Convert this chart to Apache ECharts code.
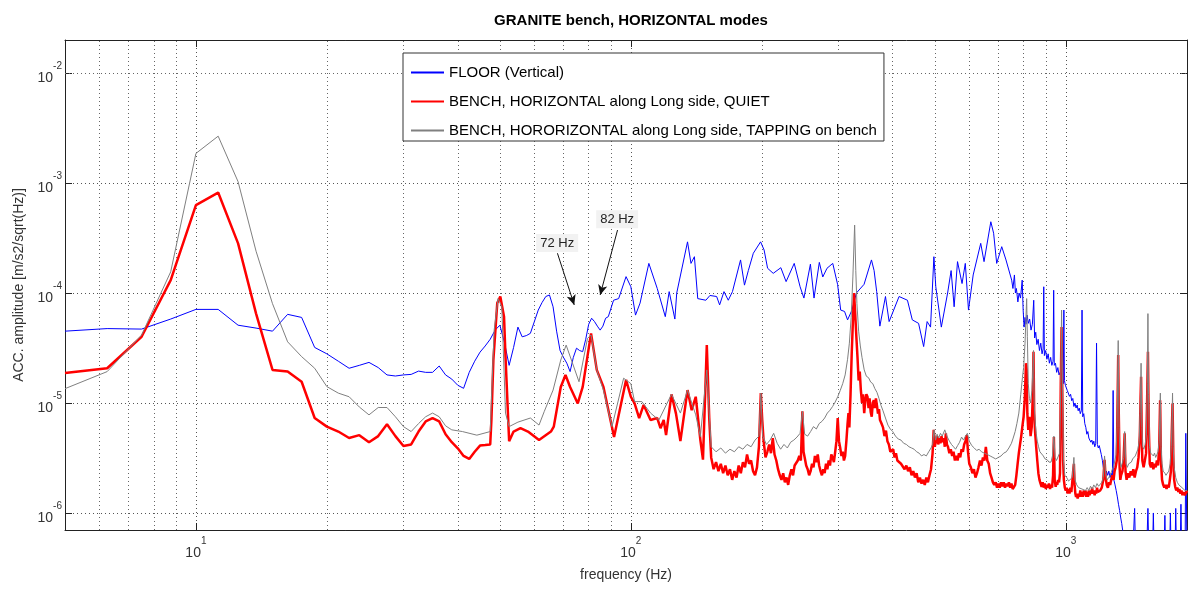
<!DOCTYPE html>
<html>
<head>
<meta charset="utf-8">
<script src="https://cdn.jsdelivr.net/npm/echarts@6/dist/echarts.min.js"></script>
<style>
  html, body { margin: 0; padding: 0; background: #fff; }
  #chart { width: 1188px; height: 590px; }
</style>
</head>
<body>
<div id="chart"></div>
<script>
// frequency axis / amplitude axis limits
const xMin = 5, xMax = 1900;
const yMin = 7e-7, yMax = 2e-2;

// minor grid positions (log axes)
const xMinorGrid = [6, 7, 8, 9, 20, 30, 40, 50, 60, 70, 80, 90, 200, 300, 400, 500, 600, 700, 800, 900];
const yMinorGrid = [8e-7, 9e-7, 2e-6, 3e-6, 4e-6, 5e-6, 6e-6, 7e-6, 8e-6, 9e-6,
  2e-5, 3e-5, 4e-5, 5e-5, 6e-5, 7e-5, 8e-5, 9e-5, 2e-4, 3e-4, 4e-4, 5e-4, 6e-4, 7e-4, 8e-4, 9e-4,
  2e-3, 3e-3, 4e-3, 5e-3, 6e-3, 7e-3, 8e-3, 9e-3];

const seriesNames = [
  'FLOOR (Vertical)',
  'BENCH, HORIZONTAL along Long side, QUIET',
  'BENCH, HORORIZONTAL along Long side, TAPPING on bench'
];

// [frequency Hz, amplitude m/s2/sqrt(Hz)]
const floorData = [
  [5, 4.5e-5], [6.25, 4.75e-5], [7.5, 4.7e-5], [8.75, 5.8e-5], [10, 7.1e-5], [11.25, 7.1e-5],
  [12.5, 5.1e-5], [13.75, 4.8e-5], [15, 4.5e-5], [16.25, 6.4e-5], [17.5, 6.0e-5], [18.75, 3.2e-5],
  [20, 2.8e-5], [21.25, 2.4e-5], [22.5, 2.07e-5], [23.75, 2.2e-5], [25, 2.34e-5], [26.25, 2.1e-5],
  [27.5, 1.8e-5], [28.75, 1.76e-5], [30, 1.8e-5], [31.25, 1.82e-5], [32.5, 1.95e-5], [33.75, 1.9e-5],
  [35, 1.9e-5], [36.25, 2.17e-5], [37.5, 1.8e-5], [38.75, 1.65e-5], [40, 1.45e-5], [41.25, 1.36e-5],
  [42.5, 1.9e-5], [43.75, 2.4e-5], [45, 2.9e-5], [46.25, 3.3e-5], [47.5, 3.8e-5], [48.75, 4.6e-5],
  [50, 5.1e-5], [51.25, 3.5e-5], [52.5, 2.2e-5], [53.75, 3.2e-5], [55, 4.9e-5], [56.25, 4.0e-5],
  [57.5, 4.1e-5], [58.75, 4.3e-5], [60, 5.5e-5], [61.25, 7.0e-5], [62.5, 8.2e-5], [63.75, 9.3e-5],
  [65, 9.6e-5], [66.25, 7.5e-5], [67.5, 4.5e-5], [68.75, 3.0e-5], [70, 2.6e-5], [71.25, 2.3e-5],
  [72.5, 1.93e-5], [73.75, 2.6e-5], [75, 3.15e-5], [76.25, 3.0e-5], [77.5, 2.93e-5], [78.75, 3.8e-5],
  [80, 5.2e-5], [81.25, 5.9e-5], [82.5, 5.5e-5], [83.75, 5.0e-5], [85, 4.6e-5], [86.25, 5.0e-5],
  [87.5, 5.9e-5], [88.75, 6.1e-5], [91.25, 8.6e-5], [93.75, 8.9e-5], [97.5, 1.41e-4], [100, 1.14e-4],
  [102.5, 6.3e-5], [105, 8.1e-5], [110, 1.86e-4], [115, 1.1e-4], [120, 6.1e-5], [122.5, 1.03e-4],
  [126.25, 5.8e-5], [127.5, 1.0e-4], [135, 2.92e-4], [137.5, 1.86e-4], [140, 2.14e-4], [142.5, 8.9e-5],
  [148.75, 8.6e-5], [152, 9.5e-5], [157.5, 9.3e-5], [160, 7.8e-5], [163.75, 1.03e-4], [167.5, 8.6e-5],
  [171.25, 1.03e-4], [178.75, 2.0e-4], [182.5, 1.18e-4], [186.25, 1.6e-4], [191.25, 2.3e-4],
  [198.75, 2.92e-4], [202.5, 2.46e-4], [206.25, 1.68e-4], [212.5, 1.51e-4], [221.25, 1.7e-4],
  [227.5, 1.27e-4], [237.5, 1.86e-4], [245, 1.14e-4], [250, 9.0e-5], [258.75, 1.83e-4], [263.75, 9.0e-5],
  [271.25, 1.9e-4], [276.25, 1.4e-4], [282.5, 1.68e-4], [291.25, 1.86e-4], [298.75, 1.2e-4],
  [303.75, 7.0e-5], [310, 6.8e-5], [315, 5.7e-5], [322.5, 7.0e-5], [330, 1.0e-4], [343.75, 1.2e-4],
  [357.5, 2.0e-4], [362.5, 1.6e-4], [367.5, 1.03e-4], [373.75, 5.0e-5], [385, 9.3e-5], [392.5, 5.5e-5],
  [413.75, 9.3e-5], [432.5, 8.6e-5], [443.75, 5.7e-5], [458.75, 5.3e-5], [471.25, 3.26e-5], [480, 5.5e-5],
  [488.75, 4.9e-5], [497.5, 2.14e-4], [502.5, 1.14e-4], [517.5, 4.9e-5], [535, 1.0e-4], [545, 1.6e-4],
  [553.75, 7.5e-5], [563.75, 1.93e-4], [577.5, 1.22e-4], [587.5, 1.86e-4], [597.5, 7.0e-5],
  [612.5, 1.46e-4], [637.5, 2.83e-4], [648.75, 1.93e-4], [672.5, 4.45e-4], [682.5, 3.5e-4],
  [693.75, 1.86e-4], [712.5, 2.64e-4], [728.75, 2.0e-4], [751, 1.31e-4], [756, 1.1e-4], [762, 1.46e-4],
  [766, 1.0e-4], [770, 1.1e-4], [776, 8.3e-5], [781, 1.0e-4], [787, 9e-5], [794, 1.31e-4], [798, 7e-5],
  [802, 4.9e-5], [806, 6e-5], [810, 5.2e-5], [815, 6.3e-5], [820, 5.3e-5], [826, 5.8e-5], [832, 4.6e-5],
  [838, 5.2e-5], [844, 8.6e-5], [848, 3.9e-5], [853, 4.4e-5], [858, 3.4e-5], [864, 3.8e-5], [870, 3.0e-5],
  [876, 3.5e-5], [882, 2.8e-5], [887, 3.1e-5], [890, 1.14e-4], [893, 2.7e-5], [899, 3.0e-5], [905, 2.5e-5],
  [911, 2.8e-5], [917, 2.3e-5], [923, 2.6e-5], [929, 2.2e-5], [935, 2.4e-5], [938, 1.06e-4], [941, 2.2e-5],
  [947, 2.3e-5], [953, 1.9e-5], [959, 2.1e-5], [965, 1.8e-5], [971, 1.9e-5], [977, 1.6e-5], [983, 1.75e-5],
  [987, 1.5e-5], [990, 7.0e-5], [993, 1.6e-5], [998, 1.45e-5], [1003, 1.5e-5], [1008, 1.3e-5],
  [1014, 1.35e-5], [1020, 1.15e-5], [1026, 1.2e-5], [1032, 1.05e-5], [1038, 1.1e-5], [1044, 9.3e-6],
  [1050, 1.0e-5], [1056, 9e-6], [1062, 9.6e-6], [1068, 8.5e-6], [1074, 9e-6], [1080, 8e-6], [1086, 8.5e-6],
  [1090, 7.0e-5], [1094, 7.5e-6], [1100, 8e-6], [1106, 6.5e-6], [1112, 6.0e-6], [1118, 5.2e-6],
  [1124, 5.5e-6], [1130, 4.8e-6], [1136, 5.0e-6], [1142, 4.4e-6], [1148, 4.6e-6], [1154, 4.2e-6],
  [1160, 4.5e-6], [1166, 4.0e-6], [1172, 4.3e-6], [1177, 3.5e-5], [1182, 4.2e-6], [1188, 3.9e-6],
  [1194, 4.1e-6], [1200, 4.0e-6], [1207, 3.4e-6], [1214, 3.0e-6], [1220, 2.6e-6], [1226, 2.4e-6],
  [1233, 2.1e-6], [1240, 2.4e-6], [1248, 2.2e-6], [1256, 2.4e-6], [1264, 2.1e-6], [1272, 2.3e-6],
  [1280, 2.1e-6], [1285, 1.3e-5], [1290, 2.0e-6], [1298, 1.8e-6], [1306, 1.6e-6], [1314, 1.4e-6],
  [1322, 1.2e-6], [1330, 1.05e-6], [1338, 9e-7], [1345, 8e-7], [1355, 6.5e-7], [1370, 5e-7],
  [1390, 3.5e-7], [1420, 3e-7], [1440, 1.1e-6], [1450, 3e-7], [1530, 3e-7], [1545, 1.1e-6], [1555, 3e-7],
  [1580, 3e-7], [1590, 1.0e-6], [1600, 3e-7], [1680, 3e-7], [1690, 9.5e-7], [1700, 3e-7], [1730, 3e-7],
  [1740, 1.0e-6], [1750, 3e-7], [1780, 3e-7], [1790, 1.1e-6], [1800, 3e-7], [1830, 3e-7], [1840, 1.2e-6],
  [1850, 3e-7], [1880, 3e-7], [1888, 5.3e-6], [1900, 4e-7]
];

const quietData = [
  [5, 1.87e-5], [6.25, 2.07e-5], [7.5, 4.0e-5], [8.75, 1.31e-4], [10, 6.3e-4], [11.25, 8.2e-4],
  [12.5, 2.83e-4], [13.75, 6.5e-5], [15, 2.0e-5], [16.25, 1.93e-5], [17.5, 1.56e-5], [18.75, 7.3e-6],
  [20, 6.1e-6], [21.25, 5.5e-6], [22.5, 4.8e-6], [23.75, 5.1e-6], [25, 4.4e-6], [26.25, 5.0e-6],
  [27.5, 6.4e-6], [28.75, 5.0e-6], [30, 4.06e-6], [31.25, 4.2e-6], [32.5, 5.5e-6], [33.75, 6.8e-6],
  [35, 7.3e-6], [36.25, 6.8e-6], [37.5, 5.2e-6], [38.75, 4.4e-6], [40, 3.87e-6], [41.25, 3.3e-6],
  [42.5, 3.1e-6], [43.75, 3.6e-6], [45, 4.1e-6], [46.25, 4.15e-6], [47.5, 4.2e-6], [47.8, 7e-6],
  [48.3, 2.46e-5], [49.3, 8.1e-5], [50.1, 9.3e-5], [51.1, 6.1e-5], [51.5, 2.64e-5], [52.5, 4.5e-6],
  [53.75, 5.5e-6], [55.75, 5.9e-6], [58, 5.5e-6], [61.5, 4.6e-6], [65.5, 5.5e-6], [66.5, 6.1e-6],
  [69, 1.4e-5], [70.75, 1.8e-5], [72.5, 1.4e-5], [75.5, 9.9e-6], [77.5, 1.4e-5], [81, 4.3e-5],
  [83.5, 2.0e-5], [86.5, 1.4e-5], [91.5, 4.9e-6], [97.5, 1.62e-5], [100, 1.14e-5], [102, 9.9e-6],
  [104.5, 7.3e-6], [107, 9.6e-6], [111, 7.0e-6], [115, 7.3e-6], [117, 5.9e-6], [119, 7e-6],
  [120.5, 5.1e-6], [124, 1.2e-5], [127, 8.0e-6], [130, 4.5e-6], [135, 1.31e-5], [138, 8.6e-6],
  [141, 1.14e-5], [144.5, 4.6e-6], [146.5, 3.05e-6], [149.5, 3.36e-5], [151.5, 7e-6], [153, 3.2e-6],
  [155, 2.5e-6], [157, 2.9e-6], [159, 2.4e-6], [161, 2.8e-6], [163, 2.3e-6], [165, 2.7e-6], [167, 2.2e-6],
  [169, 2.5e-6], [171, 2.0e-6], [173, 2.4e-6], [175, 2.1e-6], [177, 2.7e-6], [179, 2.3e-6], [181, 2.9e-6],
  [183, 2.6e-6], [185, 3.4e-6], [187, 2.8e-6], [189, 3.0e-6], [191, 2.4e-6], [193, 2.2e-6], [195, 2.6e-6],
  [197, 4e-6], [199, 1.23e-5], [200.5, 7e-6], [202, 4.5e-6], [204, 3.2e-6], [206, 3.6e-6], [208, 4.2e-6],
  [210, 3.5e-6], [212, 4.8e-6], [214, 3.4e-6], [216, 3.0e-6], [218, 2.5e-6], [220, 2.2e-6], [222, 2.0e-6],
  [224, 2.3e-6], [226, 1.9e-6], [228, 2.1e-6], [230, 1.8e-6], [232, 2.2e-6], [234, 2.5e-6], [236, 2.2e-6],
  [238, 2.7e-6], [240, 2.6e-6], [242, 3.0e-6], [244, 3.3e-6], [246, 3.0e-6], [248, 8.4e-6], [249.5, 3.6e-6],
  [251, 3.2e-6], [253, 2.7e-6], [255, 2.5e-6], [257, 2.2e-6], [259, 2.4e-6], [261, 2.8e-6], [263, 2.6e-6],
  [265, 3.3e-6], [267, 2.9e-6], [269, 3.4e-6], [271, 2.7e-6], [273, 2.4e-6], [275, 2.2e-6], [277, 2.5e-6],
  [279, 2.3e-6], [281, 2.8e-6], [283, 2.5e-6], [285, 3.0e-6], [287, 2.7e-6], [289, 3.4e-6], [291, 3.2e-6],
  [293, 2.9e-6], [295, 3.6e-6], [297, 4.5e-6], [299, 7.3e-6], [301, 4.5e-6], [303, 3.9e-6], [305, 3.3e-6],
  [307, 3.6e-6], [309, 3.0e-6], [311, 3.3e-6], [313, 4.5e-6], [315, 6.5e-6], [316.5, 8.1e-6], [318, 6e-6],
  [320, 1.2e-5], [322, 2.83e-5], [324, 5.5e-5], [326, 1.0e-4], [328, 6.5e-5], [330, 4.0e-5], [332, 2.6e-5],
  [334, 1.6e-5], [336, 1.93e-5], [338, 1.3e-5], [340, 1.0e-5], [342, 1.2e-5], [344, 8.1e-6], [346, 1.05e-5],
  [348, 1.2e-5], [350, 1.14e-5], [352, 9e-6], [354, 1.1e-5], [356, 8.3e-6], [358, 7.5e-6], [360, 1.0e-5],
  [362, 1.06e-5], [364, 9e-6], [366, 1.1e-5], [368, 9.5e-6], [370, 8.0e-6], [372, 8.8e-6], [374, 7e-6],
  [377, 6.5e-6], [380, 6.0e-6], [383, 5.0e-6], [386, 5.6e-6], [389, 4.5e-6], [392, 4.2e-6], [395, 3.6e-6],
  [398, 3.46e-6], [401, 3.8e-6], [404, 3.2e-6], [407, 3.5e-6], [410, 3.0e-6], [414, 3.05e-6], [418, 2.8e-6],
  [422, 2.9e-6], [426, 2.5e-6], [430, 2.7e-6], [434, 2.4e-6], [438, 2.6e-6], [442, 2.2e-6], [446, 2.4e-6],
  [450, 2.1e-6], [454, 2.3e-6], [458, 1.9e-6], [462, 2.1e-6], [466, 1.85e-6], [470, 2.0e-6], [474, 1.8e-6],
  [478, 2.1e-6], [482, 1.9e-6], [486, 2.2e-6], [490, 2.5e-6], [494, 3.46e-6], [497, 5.7e-6], [500, 4.0e-6],
  [503, 4.6e-6], [506, 5.0e-6], [509, 4.2e-6], [512, 4.8e-6], [515, 4.3e-6], [518, 5.0e-6], [521, 4.4e-6],
  [524, 4.8e-6], [527, 4.0e-6], [530, 5.3e-6], [533, 4.2e-6], [536, 4.0e-6], [540, 3.5e-6], [544, 3.8e-6],
  [548, 3.3e-6], [552, 3.6e-6], [556, 3.0e-6], [560, 3.3e-6], [564, 3.0e-6], [568, 3.5e-6], [572, 3.2e-6],
  [576, 3.8e-6], [580, 3.6e-6], [584, 4.2e-6], [588, 4.5e-6], [592, 5.1e-6], [596, 3.6e-6], [600, 2.8e-6],
  [605, 2.6e-6], [610, 2.3e-6], [615, 2.5e-6], [620, 2.1e-6], [625, 2.3e-6], [630, 2.6e-6], [635, 3.0e-6],
  [640, 2.7e-6], [645, 3.2e-6], [650, 3.0e-6], [655, 4.0e-6], [660, 3.0e-6], [665, 2.8e-6], [670, 2.3e-6],
  [675, 2.1e-6], [680, 1.9e-6], [685, 1.8e-6], [690, 1.9e-6], [695, 1.7e-6], [700, 1.85e-6], [705, 1.7e-6],
  [710, 1.9e-6], [715, 1.75e-6], [720, 1.9e-6], [725, 1.7e-6], [730, 1.85e-6], [735, 1.75e-6], [740, 1.9e-6],
  [745, 1.7e-6], [750, 1.85e-6], [755, 1.65e-6], [760, 1.6e-6], [765, 1.8e-6], [770, 2.2e-6], [775, 2.8e-6],
  [780, 3.5e-6], [785, 4.2e-6], [790, 5e-6], [795, 6.2e-6], [800, 7.5e-6], [805, 1.1e-5], [810, 2.3e-5],
  [813, 2.0e-5], [816, 8e-6], [820, 5.7e-6], [825, 7.5e-6], [830, 5e-6], [835, 6e-6], [840, 1.2e-5],
  [843, 2.93e-5], [846, 8e-6], [850, 5.5e-6], [855, 4.0e-6], [860, 3.0e-6], [865, 2.3e-6], [870, 2.0e-6],
  [875, 1.85e-6], [880, 1.73e-6], [885, 1.9e-6], [890, 1.7e-6], [895, 1.85e-6], [900, 1.65e-6], [905, 1.8e-6],
  [910, 1.7e-6], [915, 1.85e-6], [920, 1.65e-6], [925, 1.8e-6], [930, 1.7e-6], [935, 2.2e-6], [939, 4.9e-6],
  [943, 2.0e-6], [948, 1.73e-6], [952, 1.9e-6], [956, 1.8e-6], [960, 2.0e-6], [965, 1.9e-6], [970, 2.3e-6],
  [974, 1.5e-5], [978, 4.9e-5], [982, 1.2e-5], [986, 3e-6], [990, 2e-6], [995, 1.7e-6], [1000, 1.6e-6],
  [1005, 1.7e-6], [1010, 1.5e-6], [1015, 1.65e-6], [1020, 1.5e-6], [1025, 1.7e-6], [1030, 1.55e-6],
  [1035, 1.9e-6], [1040, 2.4e-6], [1044, 2.8e-6], [1048, 1.8e-6], [1052, 1.5e-6], [1056, 1.4e-6],
  [1060, 1.5e-6], [1065, 1.35e-6], [1070, 1.5e-6], [1075, 1.4e-6], [1080, 1.6e-6], [1085, 1.4e-6],
  [1090, 1.55e-6], [1095, 1.4e-6], [1100, 1.6e-6], [1105, 1.45e-6], [1110, 1.6e-6], [1115, 1.4e-6],
  [1120, 1.55e-6], [1125, 1.4e-6], [1130, 1.6e-6], [1135, 1.45e-6], [1140, 1.6e-6], [1145, 1.5e-6],
  [1150, 1.7e-6], [1155, 1.5e-6], [1160, 1.6e-6], [1165, 1.45e-6], [1170, 1.6e-6], [1175, 1.5e-6],
  [1180, 1.7e-6], [1185, 1.55e-6], [1190, 1.6e-6], [1195, 1.5e-6], [1200, 1.6e-6], [1210, 1.7e-6],
  [1220, 2.0e-6], [1228, 3.05e-6], [1235, 2.1e-6], [1242, 1.8e-6], [1250, 1.7e-6], [1258, 1.9e-6],
  [1265, 1.8e-6], [1272, 2.0e-6], [1280, 2.2e-6], [1288, 2.0e-6], [1295, 2.4e-6], [1302, 2.6e-6],
  [1310, 3e-6], [1316, 1.1e-5], [1320, 2.73e-5], [1324, 8e-6], [1330, 2.6e-6], [1335, 2.0e-6],
  [1340, 2.2e-6], [1350, 2.4e-6], [1358, 3e-6], [1366, 5.3e-6], [1372, 2.4e-6], [1380, 2.0e-6],
  [1390, 2.3e-6], [1400, 2.1e-6], [1410, 2.4e-6], [1420, 2.2e-6], [1430, 2.5e-6], [1440, 2.1e-6],
  [1450, 2.4e-6], [1460, 2.6e-6], [1470, 3.2e-6], [1480, 5e-6], [1486, 1.1e-5], [1490, 1.73e-5],
  [1495, 5e-6], [1500, 3.0e-6], [1510, 2.6e-6], [1520, 3.0e-6], [1530, 3.5e-6], [1538, 1e-5],
  [1545, 2.93e-5], [1552, 6e-6], [1560, 2.8e-6], [1570, 2.6e-6], [1580, 2.9e-6], [1590, 2.5e-6],
  [1600, 2.8e-6], [1610, 2.6e-6], [1620, 3.0e-6], [1630, 2.7e-6], [1640, 4.0e-6], [1648, 1.06e-5],
  [1655, 3e-6], [1665, 2.0e-6], [1675, 1.8e-6], [1685, 1.7e-6], [1695, 1.8e-6], [1705, 1.65e-6],
  [1715, 1.8e-6], [1725, 1.7e-6], [1735, 2.0e-6], [1745, 2.4e-6], [1752, 5e-6], [1760, 9.9e-6],
  [1768, 3e-6], [1775, 2.0e-6], [1785, 1.73e-6], [1795, 1.6e-6], [1805, 1.7e-6], [1815, 1.55e-6],
  [1825, 1.65e-6], [1835, 1.5e-6], [1845, 1.6e-6], [1855, 1.45e-6], [1865, 1.55e-6], [1875, 1.45e-6],
  [1885, 1.5e-6], [1895, 1.55e-6], [1900, 1.6e-6]
];

const tappingData = [
  [5, 1.35e-5], [6.25, 1.93e-5], [7.5, 4.15e-5], [8.75, 1.56e-4], [10, 1.86e-3], [11.25, 2.67e-3],
  [12.5, 1.03e-3], [13.75, 2.4e-4], [15, 8e-5], [16.25, 3.6e-5], [17.5, 2.64e-5], [18.75, 2.07e-5],
  [20, 1.41e-5], [21.25, 1.23e-5], [22.5, 1.14e-5], [23.75, 9.2e-6], [25, 7.8e-6], [26.25, 9.1e-6],
  [27.5, 9.1e-6], [28.75, 7.5e-6], [30, 6.1e-6], [31.25, 5.5e-6], [32.5, 6.5e-6], [33.75, 7.5e-6],
  [35, 8.1e-6], [36.25, 7.5e-6], [37.5, 6.2e-6], [38.75, 5.7e-6], [41, 5.5e-6], [44.25, 5.1e-6],
  [47.5, 5.5e-6], [48.5, 4.6e-5], [49.5, 8.9e-5], [50.5, 7.5e-5], [51.5, 8.1e-6], [52.5, 6.1e-6],
  [55, 6.7e-6], [58.75, 7.3e-6], [61.5, 6.3e-6], [63.25, 8.4e-6], [66.25, 1.31e-5], [69, 2.46e-5],
  [71, 3.36e-5], [73, 2.46e-5], [76, 1.56e-5], [79.5, 3.87e-5], [81, 4.15e-5], [83.5, 2.0e-5],
  [86.5, 1.31e-5], [90.5, 6.1e-6], [96.25, 1.68e-5], [100, 1.5e-5], [102, 1.03e-5], [106, 1.03e-5],
  [111, 8.1e-6], [116, 7e-6], [124, 1.2e-5], [130, 8.1e-6], [135, 1.31e-5], [141, 7.8e-6],
  [144.5, 4.94e-6], [149.5, 2e-5], [153, 4.0e-6], [157, 3.6e-6], [161, 3.9e-6], [165, 3.5e-6],
  [169, 3.8e-6], [173, 3.6e-6], [177, 4.0e-6], [181, 3.8e-6], [185, 4.2e-6], [189, 4.0e-6], [193, 4.6e-6],
  [197, 5e-6], [199, 1.23e-5], [201, 5e-6], [205, 4.2e-6], [209, 4.6e-6], [213, 5.3e-6], [217, 4.3e-6],
  [221, 3.8e-6], [225, 4.2e-6], [229, 3.9e-6], [233, 4.4e-6], [237, 4.6e-6], [241, 4.9e-6], [245, 5.3e-6],
  [248, 8.4e-6], [251, 5.2e-6], [255, 5.0e-6], [259, 5.5e-6], [263, 6.1e-6], [267, 5.8e-6], [271, 6.5e-6],
  [275, 6.8e-6], [279, 7.3e-6], [283, 8.1e-6], [287, 8.6e-6], [291, 9.3e-6], [295, 1.02e-5], [299, 1.14e-5],
  [303, 1.3e-5], [307, 1.5e-5], [311, 1.8e-5], [315, 2.5e-5], [318, 3.5e-5], [321, 6e-5], [324, 1.4e-4],
  [327, 4.15e-4], [329, 1.6e-4], [331, 8e-5], [334, 4.5e-5], [337, 3.3e-5], [340, 2.6e-5], [344, 2.0e-5],
  [348, 1.75e-5], [352, 1.7e-5], [356, 1.55e-5], [360, 1.5e-5], [364, 1.35e-5], [368, 1.25e-5],
  [372, 1.1e-5], [376, 9.5e-6], [380, 8.5e-6], [385, 7.3e-6], [390, 6.3e-6], [395, 5.8e-6], [400, 5.5e-6],
  [406, 5.0e-6], [412, 4.7e-6], [418, 4.6e-6], [424, 4.3e-6], [430, 4.2e-6], [436, 4.0e-6], [442, 3.9e-6],
  [448, 3.8e-6], [454, 3.6e-6], [460, 3.5e-6], [466, 3.3e-6], [472, 3.4e-6], [478, 3.3e-6], [484, 3.6e-6],
  [490, 3.9e-6], [494, 4.2e-6], [498, 5.7e-6], [502, 4.6e-6], [506, 5.2e-6], [510, 4.8e-6], [515, 5.3e-6],
  [520, 5.0e-6], [527, 5.7e-6], [533, 5.0e-6], [540, 4.5e-6], [546, 4.2e-6], [552, 4.0e-6], [558, 3.8e-6],
  [564, 4.1e-6], [570, 4.4e-6], [576, 4.9e-6], [582, 4.6e-6], [588, 5.0e-6], [594, 5.3e-6], [600, 4.5e-6],
  [608, 4.1e-6], [616, 3.9e-6], [624, 3.7e-6], [632, 3.8e-6], [640, 3.6e-6], [650, 3.5e-6], [660, 3.4e-6],
  [670, 3.3e-6], [680, 3.2e-6], [690, 3.1e-6], [700, 3.2e-6], [710, 3.3e-6], [720, 3.5e-6], [730, 3.6e-6],
  [740, 3.9e-6], [750, 4.3e-6], [757, 4.8e-6], [765, 5.5e-6], [772, 6.5e-6], [780, 8.1e-6], [788, 1.2e-5],
  [795, 1.7e-5], [800, 2.1e-5], [806, 3.5e-5], [810, 6e-5], [813, 8.9e-5], [816, 4e-5], [820, 1.5e-5],
  [825, 1.1e-5], [830, 1.0e-5], [836, 1.3e-5], [840, 2e-5], [843, 3e-5], [846, 1e-5], [850, 7e-6],
  [855, 5.3e-6], [860, 4.5e-6], [866, 4.0e-6], [872, 3.6e-6], [880, 3.46e-6], [888, 3.3e-6], [896, 3.1e-6],
  [906, 3.05e-6], [915, 2.9e-6], [925, 2.9e-6], [932, 3.3e-6], [939, 5e-6], [945, 3.2e-6], [952, 3.0e-6],
  [960, 3.0e-6], [968, 3.5e-6], [974, 1.5e-5], [978, 7e-5], [982, 2e-5], [988, 3e-6], [995, 2.2e-6],
  [1005, 2.1e-6], [1015, 1.95e-6], [1025, 1.9e-6], [1035, 2.1e-6], [1044, 3.2e-6], [1050, 2.0e-6],
  [1060, 1.8e-6], [1070, 1.7e-6], [1080, 1.75e-6], [1090, 1.65e-6], [1100, 1.7e-6], [1110, 1.6e-6],
  [1120, 1.7e-6], [1130, 1.6e-6], [1140, 1.75e-6], [1150, 1.65e-6], [1160, 1.8e-6], [1170, 1.7e-6],
  [1180, 1.85e-6], [1190, 1.75e-6], [1200, 1.8e-6], [1210, 1.9e-6], [1220, 2.1e-6], [1228, 3.3e-6],
  [1236, 2.2e-6], [1245, 2.0e-6], [1255, 2.1e-6], [1265, 2.2e-6], [1275, 2.4e-6], [1285, 2.6e-6],
  [1295, 2.9e-6], [1305, 3.4e-6], [1312, 6e-6], [1320, 3.7e-5], [1326, 6e-6], [1333, 3e-6], [1340, 2.6e-6],
  [1350, 2.7e-6], [1360, 3.2e-6], [1366, 5.5e-6], [1375, 2.8e-6], [1385, 2.6e-6], [1395, 2.8e-6],
  [1405, 2.7e-6], [1415, 2.9e-6], [1425, 3.1e-6], [1435, 3.0e-6], [1445, 3.3e-6], [1455, 3.4e-6],
  [1465, 3.8e-6], [1475, 4.5e-6], [1482, 8e-6], [1490, 2.3e-5], [1496, 6e-6], [1502, 4.0e-6],
  [1512, 3.8e-6], [1522, 4.2e-6], [1532, 5e-6], [1540, 1.5e-5], [1545, 6.5e-5], [1550, 1.2e-5],
  [1558, 4.0e-6], [1568, 3.5e-6], [1580, 3.46e-6], [1590, 3.3e-6], [1600, 3.5e-6], [1610, 3.2e-6],
  [1620, 3.4e-6], [1630, 3.6e-6], [1640, 4.5e-6], [1650, 1.23e-5], [1656, 4e-6], [1665, 2.8e-6],
  [1675, 2.4e-6], [1690, 2.3e-6], [1700, 2.2e-6], [1712, 2.3e-6], [1725, 2.4e-6], [1738, 2.8e-6],
  [1748, 4e-6], [1755, 7e-6], [1760, 1.23e-5], [1766, 4e-6], [1775, 2.6e-6], [1790, 2.1e-6],
  [1805, 1.9e-6], [1820, 1.8e-6], [1835, 1.73e-6], [1850, 1.7e-6], [1865, 1.65e-6], [1880, 1.6e-6],
  [1900, 1.6e-6]
];

// annotation arrows: label, label position, arrow start, arrow end
const notes = [
  { text: '72 Hz', at: [67.7, 2.85e-4], from: [67.8, 2.3e-4], to: [74.1, 7.8e-5] },
  { text: '82 Hz', at: [93, 4.7e-4], from: [93.2, 3.74e-4], to: [85.0, 9.6e-5] }
];

const FONT = '"Liberation Sans", Arial, sans-serif';

function powLabel(value) {
  const lg = Math.log10(value);
  const e = Math.round(lg);
  if (Math.abs(lg - e) > 1e-6) return '';
  return '{b|10}{s|' + e + '}';
}

const labelRich = {
  b: { fontSize: 14, fontFamily: FONT, color: '#333', lineHeight: 24, verticalAlign: 'bottom' },
  s: { fontSize: 10, fontFamily: FONT, color: '#333', lineHeight: 6, verticalAlign: 'top' }
};

const dotted = { color: '#555', width: 1, type: [1, 3] };
const dottedMinor = { color: '#666', width: 1, type: [1, 3] };

const gridLines = xMinorGrid.map(v => ({ xAxis: v }))
  .concat(yMinorGrid.map(v => ({ yAxis: v })));

const chart = echarts.init(document.getElementById('chart'));

chart.setOption({
  animation: false,
  backgroundColor: '#fff',
  title: {
    text: 'GRANITE bench, HORIZONTAL modes',
    left: 626,
    top: 8,
    textAlign: 'center',
    textStyle: { fontFamily: FONT, fontSize: 15, fontWeight: 'bold', color: '#000' }
  },
  legend: {
    data: seriesNames,
    orient: 'vertical',
    left: 403,
    top: 53,
    padding: [12, 7, 3, 7],
    itemGap: 14,
    itemWidth: 33,
    itemHeight: 14,
    backgroundColor: '#fff',
    borderColor: '#333',
    borderWidth: 1,
    itemStyle: { opacity: 0 },
    textStyle: { fontFamily: FONT, fontSize: 15, color: '#000' }
  },
  grid: { left: 65, right: 1, top: 40, bottom: 60 },
  xAxis: [
    {
      type: 'log', logBase: 10, min: xMin, max: xMax,
      name: 'frequency (Hz)', nameLocation: 'middle', nameGap: 38,
      nameTextStyle: { fontFamily: FONT, fontSize: 14, color: '#333' },
      axisLine: { show: true, lineStyle: { color: '#222' } },
      axisTick: { show: true, inside: true, length: 7, lineStyle: { color: '#222' } },
      axisLabel: { formatter: powLabel, rich: labelRich, margin: 6, showMinLabel: false, showMaxLabel: false },
      splitLine: { show: true, lineStyle: dotted }
    },
    {
      type: 'log', logBase: 10, min: xMin, max: xMax, position: 'top',
      axisLine: { show: true, lineStyle: { color: '#222' } },
      axisTick: { show: true, inside: true, length: 7, lineStyle: { color: '#222' } },
      axisLabel: { show: false },
      splitLine: { show: false }
    }
  ],
  yAxis: [
    {
      type: 'log', logBase: 10, min: yMin, max: yMax,
      name: 'ACC. amplitude [m/s2/sqrt(Hz)]', nameLocation: 'middle', nameGap: 36, nameRotate: 90,
      nameTextStyle: { fontFamily: FONT, fontSize: 14, color: '#333' },
      axisLine: { show: true, lineStyle: { color: '#222' } },
      axisTick: { show: true, inside: true, length: 7, lineStyle: { color: '#222' } },
      axisLabel: { formatter: powLabel, rich: labelRich, margin: 3, showMinLabel: false, showMaxLabel: false },
      splitLine: { show: true, lineStyle: dotted }
    },
    {
      type: 'log', logBase: 10, min: yMin, max: yMax, position: 'right',
      axisLine: { show: true, lineStyle: { color: '#222' } },
      axisTick: { show: true, inside: true, length: 7, lineStyle: { color: '#222' } },
      axisLabel: { show: false },
      splitLine: { show: false }
    }
  ],
  series: [
    {
      name: seriesNames[0],
      type: 'line',
      data: floorData,
      symbol: 'none',
      lineStyle: { color: '#0000ff', width: 1 },
      itemStyle: { color: '#0000ff' },
      markLine: {
        silent: true,
        z: 1,
        symbol: 'none',
        label: { show: false },
        lineStyle: dottedMinor,
        data: gridLines
      }
    },
    {
      name: seriesNames[1],
      type: 'line',
      data: quietData,
      symbol: 'none',
      lineStyle: { color: '#ff0000', width: 2.5 },
      itemStyle: { color: '#ff0000' },
      markLine: {
        silent: true,
        symbol: ['none', 'arrow'],
        symbolSize: [7, 10],
        label: { show: false },
        lineStyle: { color: '#111', width: 1, type: 'solid' },
        data: notes.map(n => [{ coord: n.from }, { coord: n.to }])
      }
    },
    {
      name: seriesNames[2],
      type: 'line',
      data: tappingData,
      symbol: 'none',
      lineStyle: { color: '#808080', width: 1 },
      itemStyle: { color: '#808080' },
      markPoint: {
        silent: true,
        symbol: 'rect',
        symbolSize: 1,
        itemStyle: { color: 'rgba(0,0,0,0)' },
        label: {
          show: true,
          position: 'inside',
          formatter: '{b}',
          fontFamily: FONT,
          fontSize: 13,
          color: '#222',
          backgroundColor: '#f2f2f2',
          padding: [3, 4, 2, 4]
        },
        data: notes.map(n => ({ name: n.text, coord: n.at }))
      }
    }
  ]
});
</script>
</body>
</html>
